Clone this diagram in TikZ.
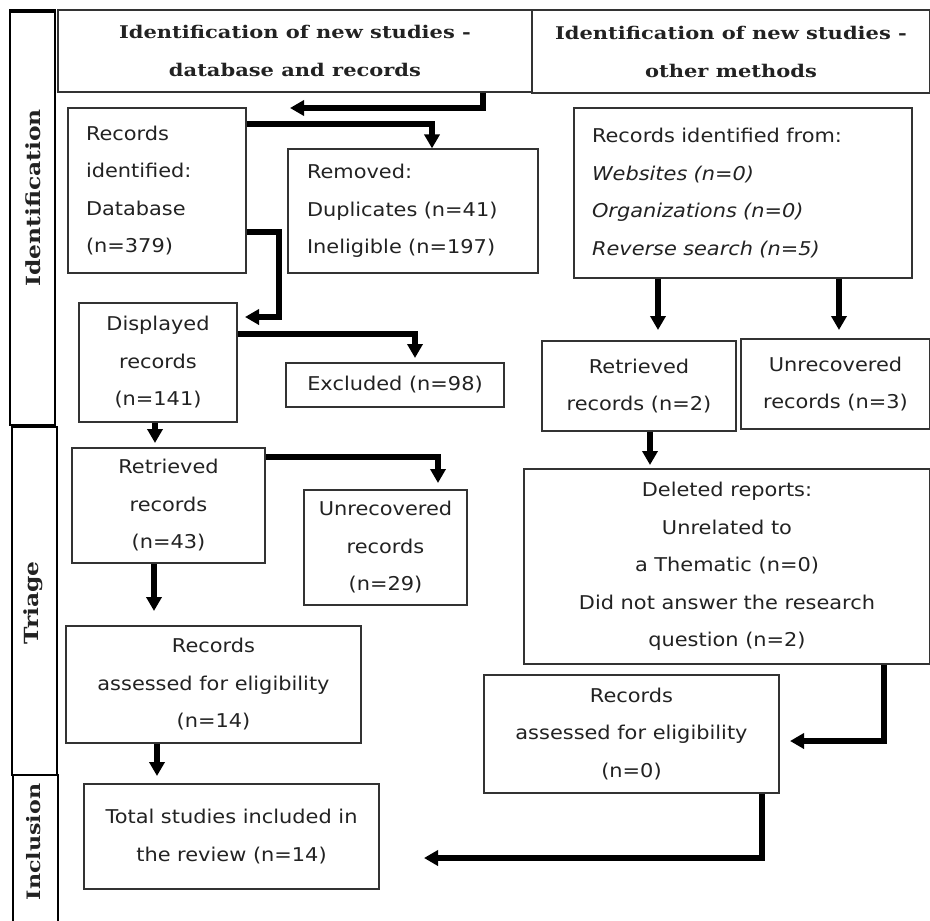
\documentclass[tikz,border=0pt]{standalone}
\usepackage{fontspec}
\setmainfont{DejaVu Sans}[FakeStretch=1.1]
\newfontfamily\hdrfont{DejaVu Serif}[FakeStretch=1.2]
\usetikzlibrary{arrows.meta}
\definecolor{boxline}{HTML}{333333}
\definecolor{txt}{HTML}{222222}
\tikzset{
  box/.style={draw=boxline, line width=1.2pt, inner sep=0pt, text=txt,
    font={\fontsize{19}{37.5}\selectfont}, align=center},
  lbox/.style={box, align=left, inner xsep=18pt},
  hdr/.style={draw=boxline, line width=1.2pt, inner sep=0pt, text=txt,
    font={\hdrfont\bfseries\fontsize{17.5}{38}\selectfont}, align=center},
  side/.style={draw=black, line width=2pt, inner sep=0pt},
  sidelbl/.style={rotate=90, inner sep=0pt, text=txt,
    font={\hdrfont\bfseries\fontsize{19.5}{24}\selectfont}},
  arr/.style={line width=5.5pt, line join=miter, draw=black,
    -{Triangle[width=15pt,length=14pt]}},
}
\begin{document}
\begin{tikzpicture}[x=1pt,y=-1pt]
\useasboundingbox (0,0) rectangle (930,921);
% sidebars
\node[side, minimum width=45pt, minimum height=413pt] (sIdent) at (32.5,218.5) {};
\node[side, minimum width=45pt, minimum height=348pt] (sTriage) at (34.5,601) {};
\node[side, minimum width=45pt, minimum height=160pt] (sIncl) at (35.5,855) {};
\draw[line width=4.5pt] (sIdent.north west) -- (sIdent.north east);
\node[sidelbl] (lIdent) at (33,198) {Identification};
\node[sidelbl] (lTriage) at (33,603) {Triage};
\node[sidelbl, font={\hdrfont\bfseries\fontsize{18.5}{24}\selectfont}] (lIncl) at (34,842) {Inclusion};
% headers
\node[hdr, minimum width=474pt, minimum height=82pt] (hdrL) at (295,51) {Identification of new studies -\\database and records};
\node[hdr, minimum width=398pt, minimum height=83pt] (hdrR) at (731,51.5) {Identification of new studies -\\other methods};
% left column boxes
\node[lbox, text width=142pt, minimum height=165pt] (recL) at (157,190.5) {Records\\identified:\\Database\\(n=379)};
\node[lbox, text width=212pt, minimum height=124pt, inner xsep=19pt] (removed) at (413,211) {Removed:\\Duplicates (n=41)\\Ineligible (n=197)};
\node[box, minimum width=158pt, minimum height=119pt] (displayed) at (158,362.5) {Displayed\\records\\(n=141)};
\node[box, minimum width=218pt, minimum height=44pt] (excluded) at (395,385) {Excluded (n=98)};
\node[box, minimum width=193pt, minimum height=115pt] (retrL) at (168.5,505.5) {Retrieved\\records\\(n=43)};
\node[box, minimum width=163pt, minimum height=115pt] (unrecL) at (385.5,547.5) {Unrecovered\\records\\(n=29)};
\node[box, minimum width=295pt, minimum height=117pt] (assessL) at (213.5,684.5) {Records\\assessed for eligibility\\(n=14)};
\node[box, minimum width=295pt, minimum height=105pt] (total) at (231.5,836.5) {Total studies included in\\the review (n=14)};
% right column boxes
\node[lbox, text width=302pt, minimum height=170pt] (recR) at (743,193) {Records identified from:\\\textit{Websites (n=0)}\\\textit{Organizations (n=0)}\\\textit{Reverse search (n=5)}};
\node[box, minimum width=194pt, minimum height=90pt] (retrR) at (639,386) {Retrieved\\records (n=2)};
\node[box, minimum width=189pt, minimum height=90pt] (unrecR) at (835.5,384) {Unrecovered\\records (n=3)};
\node[box, minimum width=406pt, minimum height=195pt] (deleted) at (727,566.5) {Deleted reports:\\Unrelated to\\a Thematic (n=0)\\Did not answer the research\\question (n=2)};
\node[box, minimum width=295pt, minimum height=118pt] (assessR) at (631.5,734) {Records\\assessed for eligibility\\(n=0)};
% connector points
\coordinate (k1) at (483,108);
\coordinate (t1) at (290,108);
\coordinate (k2) at (432,124);
\coordinate (k3a) at (279,232);
\coordinate (k3b) at (279,317);
\coordinate (t3) at (245,317);
\coordinate (k4) at (415,334);
\coordinate (t4) at (415,358);
\coordinate (t5) at (155,443);
\coordinate (k6) at (438,457);
\coordinate (t6) at (438,483);
\coordinate (t7) at (154,611);
\coordinate (t8) at (157,776);
\coordinate (t9) at (658,330);
\coordinate (t10) at (839,330);
\coordinate (t11) at (650,465);
\coordinate (k12) at (884,741);
\coordinate (t12) at (790,741);
\coordinate (k13) at (762,858);
\coordinate (t13) at (424,858);
% connectors
\draw[arr] (hdrL.south -| k1) -- (k1) -- (t1);
\draw[arr] (recL.east |- k2) -| (removed.north -| k2);
\draw[arr] (recL.east |- k3a) -- (k3a) -- (k3b) -- (t3);
\draw[arr] (displayed.east |- k4) -| (t4);
\draw[arr] (displayed.south -| t5) -- (t5);
\draw[arr] (retrL.east |- k6) -| (t6);
\draw[arr] (retrL.south -| t7) -- (t7);
\draw[arr] (assessL.south -| t8) -- (t8);
\draw[arr] (recR.south -| t9) -- (t9);
\draw[arr] (recR.south -| t10) -- (t10);
\draw[arr] (retrR.south -| t11) -- (t11);
\draw[arr] (deleted.south -| k12) -- (k12) -- (t12);
\draw[arr] (assessR.south -| k13) -- (k13) -- (t13);
\end{tikzpicture}
\end{document}
